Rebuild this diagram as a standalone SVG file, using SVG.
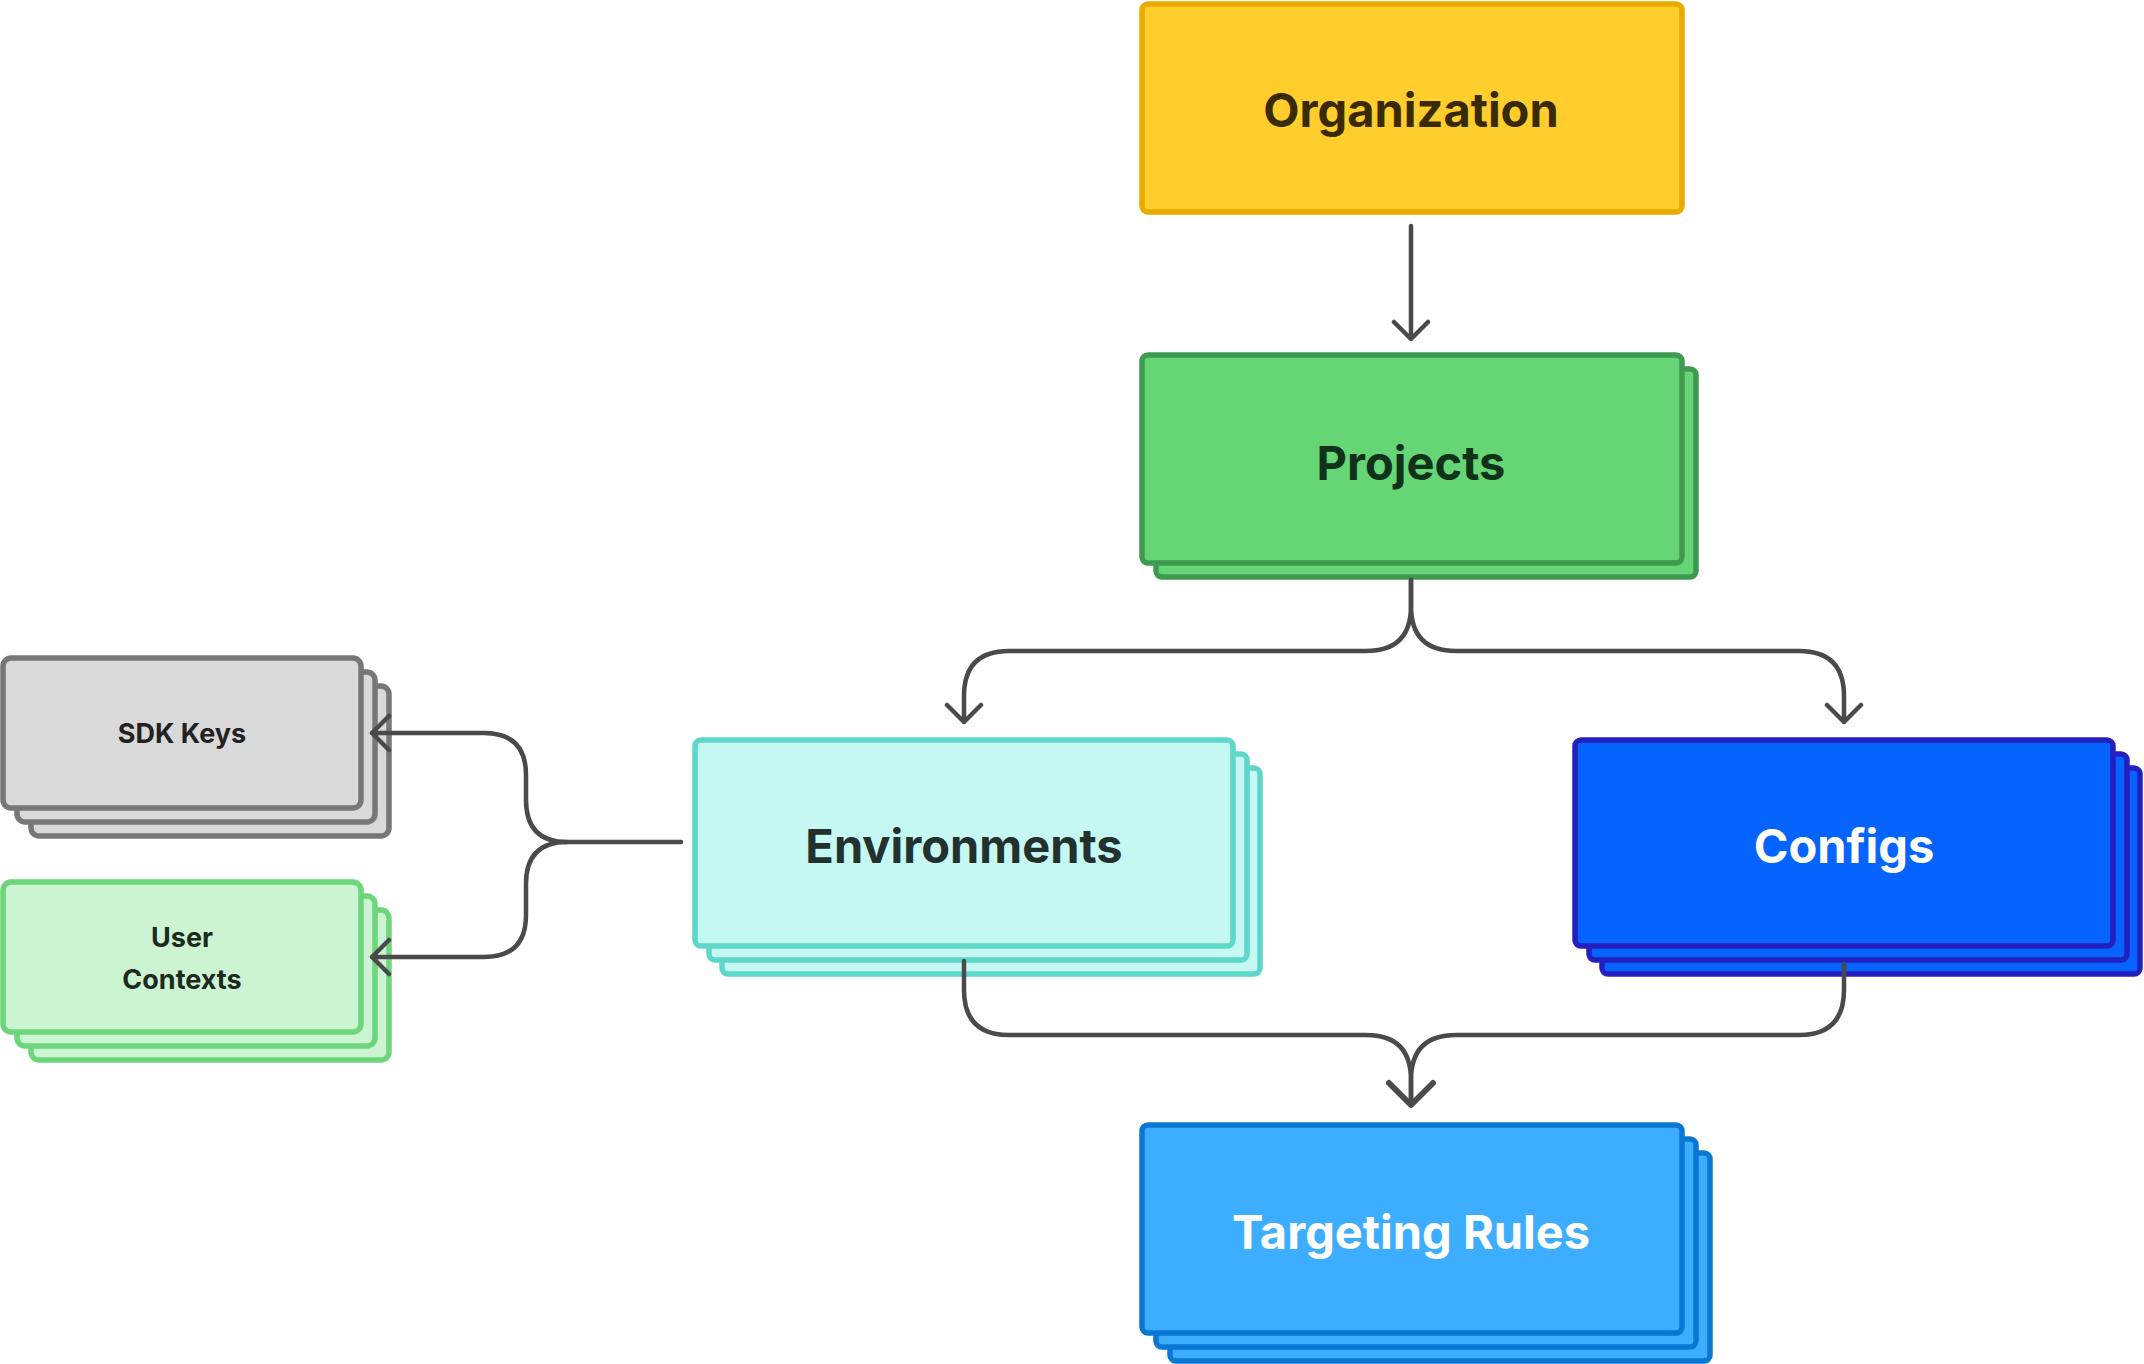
<svg xmlns="http://www.w3.org/2000/svg" width="2144" height="1364" viewBox="0 0 2144 1364">
<style>
text{font-family:Inter,"Liberation Sans",sans-serif;font-weight:700;text-anchor:middle;dominant-baseline:central}
.big{font-size:47px}.small{font-size:27px}
.c{fill:none;stroke:#4a4a4a;stroke-width:4.5;stroke-linecap:round;stroke-linejoin:round}
.org{fill:#FFCD2C;stroke:#E8AC00;stroke-width:5.5}
.prj{fill:#66D575;stroke:#3E9A4F;stroke-width:5.5}
.env{fill:#C5F8F2;stroke:#5DD7C9;stroke-width:5.5}
.cfg{fill:#0563FE;stroke:#2420C0;stroke-width:5.5}
.tgt{fill:#3DAEFF;stroke:#0B77D4;stroke-width:5.5}
.sdk{fill:#D9D9D9;stroke:#777;stroke-width:5.5}
.usr{fill:#CCF4D3;stroke:#6DD67A;stroke-width:5.5}
</style>
<g id="organization"><rect class="org" x="1142" y="4" width="540" height="208" rx="6"/><text class="big" x="1411" y="109" fill="#3A2A00">Organization</text></g>
<g id="projects"><rect class="prj" x="1156" y="369" width="540" height="208" rx="6"/><rect class="prj" x="1142" y="355" width="540" height="208" rx="6"/><text class="big" x="1411" y="462" fill="#10321a">Projects</text></g>
<g id="environments"><rect class="env" x="722" y="768" width="538" height="206" rx="6"/><rect class="env" x="709" y="754" width="538" height="206" rx="6"/><rect class="env" x="695" y="740" width="538" height="206" rx="6"/><text class="big" x="964" y="845" fill="#22302e">Environments</text></g>
<g id="configs"><rect class="cfg" x="1602" y="768" width="538" height="206" rx="6"/><rect class="cfg" x="1589" y="754" width="538" height="206" rx="6"/><rect class="cfg" x="1575" y="740" width="538" height="206" rx="6"/><text class="big" x="1844" y="845" fill="#fff">Configs</text></g>
<g id="targeting-rules"><rect class="tgt" x="1170" y="1153" width="540" height="208" rx="6"/><rect class="tgt" x="1156" y="1139" width="540" height="208" rx="6"/><rect class="tgt" x="1142" y="1125" width="540" height="208" rx="6"/><text class="big" x="1411" y="1231" fill="#fff">Targeting Rules</text></g>
<g id="sdk-keys"><rect class="sdk" x="31" y="686" width="358" height="150" rx="8"/><rect class="sdk" x="17" y="672" width="358" height="150" rx="8"/><rect class="sdk" x="3" y="658" width="358" height="150" rx="8"/><text class="small" x="182" y="733" fill="#222">SDK Keys</text></g>
<g id="user-contexts"><rect class="usr" x="31" y="910" width="358" height="150" rx="8"/><rect class="usr" x="17" y="896" width="358" height="150" rx="8"/><rect class="usr" x="3" y="882" width="358" height="150" rx="8"/><text class="small" x="182" y="937" fill="#1d2a20">User</text><text class="small" x="182" y="979" fill="#1d2a20">Contexts</text></g>
<g id="connectors">
<path class="c" d="M1411 226V339M1394 322L1411 339L1428 322"/>
<path class="c" d="M1411 580V606Q1411 651 1366 651H1009Q964 651 964 696V722M947 705L964 722L981 705"/>
<path class="c" d="M1411 580V606Q1411 651 1456 651H1799Q1844 651 1844 696V722M1827 705L1844 722L1861 705"/>
<path class="c" d="M681 842H567Q526 842 526 800V775Q526 733 484 733H372M389 716L372 733L389 750"/>
<path class="c" d="M567 842Q526 842 526 884V915Q526 957 484 957H372M389 940L372 957L389 974"/>
<path class="c" d="M964 961V990Q964 1035 1009 1035H1366Q1411 1035 1411 1080V1105"/>
<path class="c" d="M1844 964V990Q1844 1035 1799 1035H1456Q1411 1035 1411 1080V1105"/>
<path class="c" style="stroke-width:6" d="M1389 1083L1411 1105L1433 1083"/>
</g>
</svg>
